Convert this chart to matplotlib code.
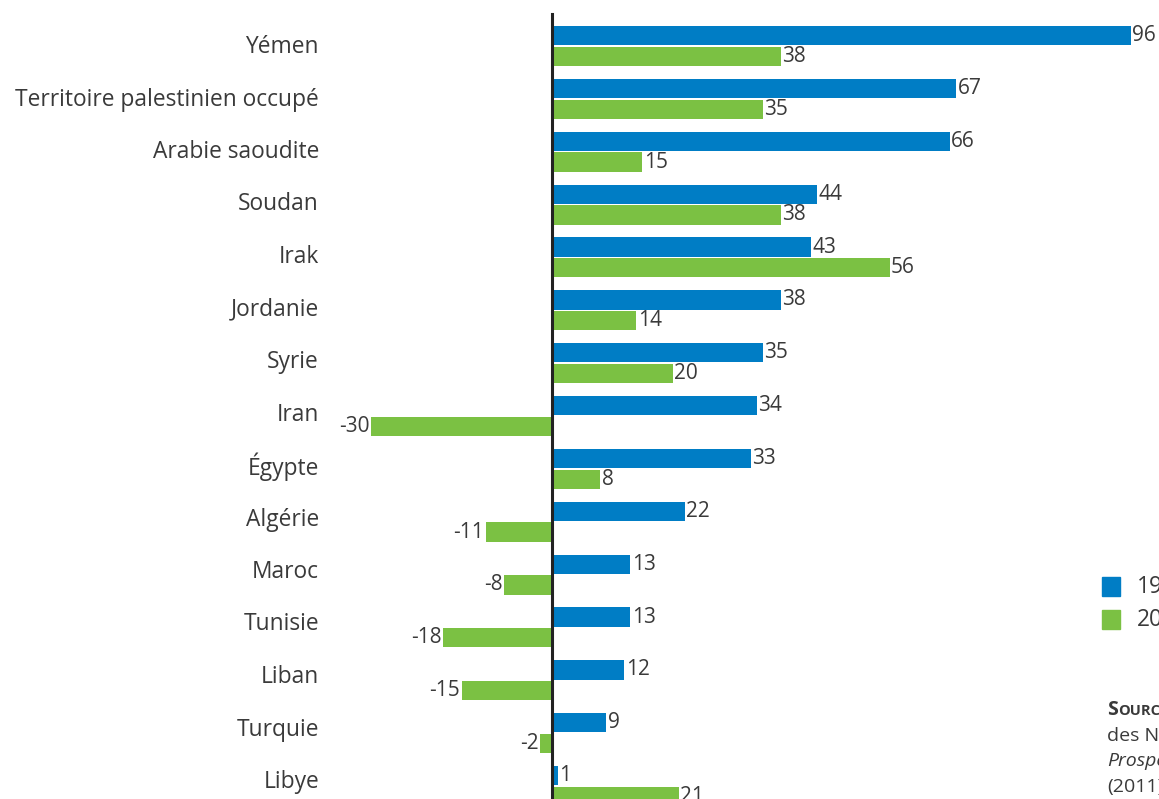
import matplotlib.pyplot as plt
import numpy as np

plt.rcParams['font.family'] = ['Open Sans', 'DejaVu Sans']

countries = ["Yémen", "Territoire palestinien occupé", "Arabie saoudite", "Soudan",
             "Irak", "Jordanie", "Syrie", "Iran", "Égypte", "Algérie", "Maroc",
             "Tunisie", "Liban", "Turquie", "Libye"]
serie_1 = [96, 67, 66, 44, 43, 38, 35, 34, 33, 22, 13, 13, 12, 9, 1]
serie_2 = [38, 35, 15, 38, 56, 14, 20, -30, 8, -11, -8, -18, -15, -2, 21]
legend_labels = ["1990-2010", "2010-2030"]

BLUE = "#007dc5"
GREEN = "#7bc143"
TEXT = "#3a3a3a"

W, H = 1159, 799
fig = plt.figure(figsize=(W / 100, H / 100), dpi=100)

# axes placed in pixel units so the zero line sits at x=552
ax_left, ax_right = 340, W
ax = fig.add_axes([ax_left / W, 0, (ax_right - ax_left) / W, 1])
px_per_unit = 6.03
ax.set_xlim(-(552 - ax_left) / px_per_unit, (ax_right - 552) / px_per_unit)
row_px = 52.86
ax.set_ylim(14 + (H - 786) / row_px, -46 / row_px)
ax.axis("off")

y = np.arange(len(countries))
h = 0.365
ax.barh(y - 0.195, serie_1, height=h, color=BLUE)
ax.barh(y + 0.195, serie_2, height=h, color=GREEN)
ax.plot([0, 0], [-32 / row_px, 15], color="#222222", lw=2.2, clip_on=False)

for off, serie in ((-0.195, serie_1), (0.195, serie_2)):
    for yi, v in zip(y + off, serie):
        ax.annotate(str(v), (v, yi), xytext=(1 if v >= 0 else -1, 0),
                    textcoords="offset points", ha="left" if v >= 0 else "right",
                    va="center", fontsize=15, color=TEXT, annotation_clip=False)

for i, name in enumerate(countries):
    fig.text(319 / W, 1 - (47 + 52.5 * i) / H, name, ha="right", va="center",
             fontsize=16.4, color=TEXT)

# legend (cut by the right edge)
for i, (c, lab) in enumerate(zip([BLUE, GREEN], legend_labels)):
    top = 577 + 33 * i
    fig.patches.append(plt.Rectangle((1102 / W, 1 - (top + 19) / H), 18 / W, 19 / H,
                                     transform=fig.transFigure, color=c))
    fig.text(1137 / W, 1 - (top + 10) / H, lab, ha="left", va="center",
             fontsize=16.4, color=TEXT)

# source note (cut by the right edge), small caps done by hand
renderer = fig.canvas.get_renderer()
s = fig.text(1107 / W, 1 - 715 / H, "S", fontsize=14, fontweight="bold", color=TEXT,
             va="baseline")
s_end = s.get_window_extent(renderer).x1
fig.text((s_end + 0.5) / W, 1 - 715 / H, "OURCE", fontsize=10.5, fontweight="bold",
         color=TEXT, va="baseline")
fig.text(1107 / W, 1 - 741 / H, "des Nations Unies", fontsize=14, color=TEXT)
fig.text(1107 / W, 1 - 766 / H, "Prospects", fontsize=14, style="italic", color=TEXT)
fig.text(1107 / W, 1 - 792 / H, "(2011)", fontsize=14, color=TEXT)

fig.savefig("out.png", dpi=100)
